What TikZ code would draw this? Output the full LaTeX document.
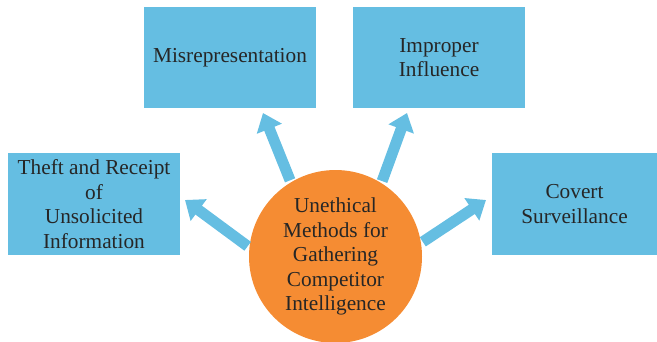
\documentclass[tikz,border=0pt]{standalone}
\usepackage{fontspec}
\setmainfont{Liberation Serif}
\usetikzlibrary{arrows.meta}
\definecolor{boxblue}{HTML}{65BEE2}
\definecolor{circorange}{HTML}{F58C33}
\definecolor{txt}{HTML}{262626}
\tikzset{
  box/.style={fill=boxblue, draw=none, inner sep=0pt, align=center, text=txt,
    font=\fontsize{21.3}{24.5}\selectfont},
  hub/.style={circle, fill=circorange, draw=none, inner sep=0pt, align=center, text=txt,
    minimum size=173pt, font=\fontsize{21.3}{24.5}\selectfont},
  arr/.style={draw=boxblue, line width=11pt, shorten <=2pt, -{Triangle[width=26pt,length=17pt]}}
}
\begin{document}
\begin{tikzpicture}[x=1pt,y=-1pt]
\useasboundingbox (0,0) rectangle (657,341);
\node[box, minimum width=172pt, minimum height=102pt] (L) at (94,204) {Theft and Receipt\\of\\Unsolicited\\Information};
\node[box, minimum width=172pt, minimum height=101pt] (M) at (230,57.5) {Misrepresentation};
\node[box, minimum width=172pt, minimum height=101pt] (I) at (439,57.5) {Improper\\Influence};
\node[box, minimum width=165pt, minimum height=102pt] (C) at (574.5,204) {Covert\\Surveillance};
\node[hub] (H) at (335.5,256.5) {Unethical\\Methods for\\Gathering\\Competitor\\Intelligence};
\coordinate (tL) at (185,200);
\coordinate (tM) at (263,113);
\coordinate (tI) at (407,113);
\coordinate (tC) at (486,200);
\draw[arr] (H.174) -- (tL);
\draw[arr] (H.121) -- (tM);
\draw[arr] (H.58) -- (tI);
\draw[arr] (H.9) -- (tC);
\end{tikzpicture}
\end{document}
